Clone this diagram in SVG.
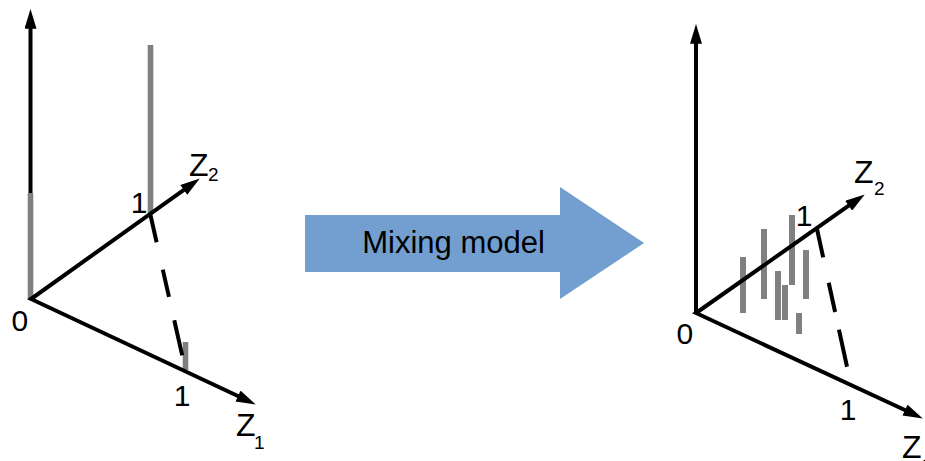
<svg xmlns="http://www.w3.org/2000/svg" width="925" height="461" viewBox="0 0 925 461">
  <style>
    .axis { fill: none; stroke: #000; stroke-width: 4; stroke-linejoin: miter; }
    .dash { fill: none; stroke: #000; stroke-width: 4; }
    .bar { fill: #808080; }
    .lbl { font-family: "Liberation Sans", Arial, sans-serif; font-size: 30px; fill: #000; }
    .zl { font-family: "Liberation Sans", Arial, sans-serif; font-size: 32px; fill: #000; }
    .sub { font-family: "Liberation Sans", Arial, sans-serif; font-size: 19px; fill: #000; }
    .big { font-family: "Liberation Sans", Arial, sans-serif; font-size: 31px; fill: #000; }
  </style>
  <defs>
    <marker id="head" markerUnits="userSpaceOnUse" markerWidth="20" markerHeight="12" viewBox="0 0 18 11" refX="8" refY="5.5" orient="auto-start-reverse">
      <path d="M0,0 L18,5.5 L0,11 z" fill="#000"/>
    </marker>
  </defs>

  <rect width="925" height="461" fill="#fff"/>

  <!-- left plot: axes -->
  <g id="left-axes">
    <line class="axis" x1="30.5" y1="299" x2="30.5" y2="20" marker-end="url(#head)"/>
  </g>
  <g id="left-bars">
    <rect class="bar" x="27.7" y="193" width="5.6" height="106"/>
    <rect class="bar" x="147.7" y="45" width="5.6" height="168"/>
    <rect class="bar" x="182.7" y="342" width="5.6" height="28"/>
  </g>
  <g id="left-plane">
    <path class="axis" d="M190.9,184.8 L31,299 L245.9,399.8" marker-start="url(#head)" marker-end="url(#head)"/>
    <line class="dash" x1="150" y1="213" x2="185.5" y2="370" stroke-dasharray="30 28 28 24 36 40"/>
  </g>
  <g id="left-labels">
    <text class="lbl" x="11.4" y="331">0</text>
    <text class="lbl" x="130.7" y="213">1</text>
    <text class="lbl" x="173.7" y="406">1</text>
    <text class="zl" x="189" y="176">Z</text>
    <text class="sub" x="208" y="181">2</text>
    <text class="zl" x="236" y="436">Z</text>
    <text class="sub" x="254" y="449">1</text>
  </g>

  <!-- block arrow between the plots -->
  <g id="mixing-model">
    <polygon points="305,215 560,215 560,187 644,243 560,299 560,272 305,272" fill="#729fcf"/>
    <text class="big" x="453.5" y="253" text-anchor="middle">Mixing model</text>
  </g>

  <!-- right plot -->
  <g id="right-axes">
    <line class="axis" x1="696" y1="313" x2="696" y2="35" marker-end="url(#head)"/>
  </g>
  <g id="right-bars">
    <rect class="bar" x="740" y="257" width="6" height="56"/>
    <rect class="bar" x="761" y="229" width="6" height="70"/>
    <rect class="bar" x="775" y="271" width="6" height="49"/>
    <rect class="bar" x="782" y="285" width="6" height="35"/>
    <rect class="bar" x="789" y="215" width="6" height="70"/>
    <rect class="bar" x="803" y="250" width="6" height="49"/>
    <rect class="bar" x="796" y="313" width="6" height="21"/>
  </g>
  <g id="right-plane">
    <path class="axis" d="M855.8,200.7 L696,313 L912.9,413.8" marker-start="url(#head)" marker-end="url(#head)"/>
    <line class="dash" x1="817" y1="229" x2="851" y2="385" stroke-dasharray="29 26 30 18 38 40"/>
  </g>
  <g id="right-labels">
    <text class="lbl" x="676.5" y="344">0</text>
    <text class="lbl" x="795.7" y="226">1</text>
    <text class="lbl" x="839.7" y="420">1</text>
    <text class="zl" x="854" y="183">Z</text>
    <text class="sub" x="874" y="195">2</text>
    <text class="zl" x="902" y="458">Z</text>
    <text class="sub" x="921" y="472">1</text>
  </g>
</svg>
